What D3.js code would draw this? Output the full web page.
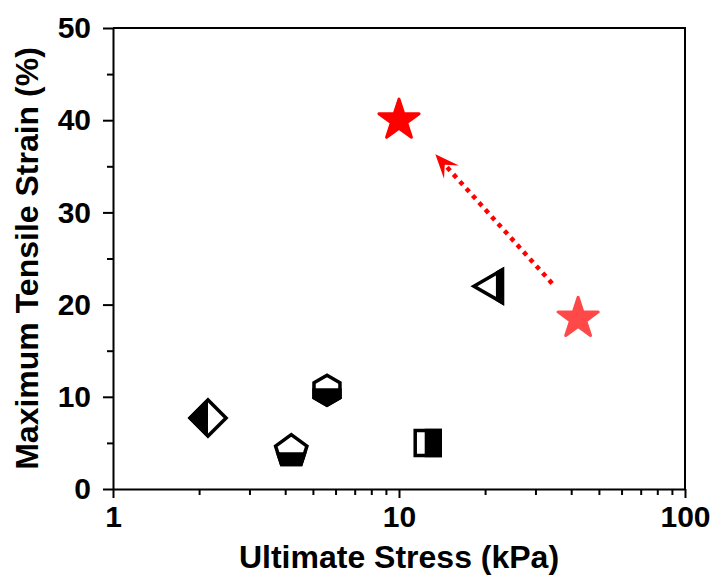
<!DOCTYPE html>
<html>
<head>
<meta charset="utf-8">
<script src="https://cdn.jsdelivr.net/npm/d3@7"></script>
<style>
  html, body { margin: 0; padding: 0; background: #fff; }
  svg { display: block; }
  text { font-family: "Liberation Sans", Arial, sans-serif; font-weight: bold; fill: #000; }
</style>
</head>
<body>
<svg id="chart" width="716" height="577"></svg>
<script>
// Samples: ultimate stress (kPa) vs. maximum tensile strain (%)
const sampleNames = ["diamond", "pentagon", "hexagon", "square", "triangle", "starLight", "starRed"];
const stressKPa   = [2.15, 4.2, 5.6, 12.6, 21.3, 42.3, 10.0];
const strainPct   = [7.7, 4.1, 10.7, 5.0, 22.0, 18.5, 40.0];

// Dotted arrow: from the light star towards the red star
const arrowStress = [34.3, 13.4];
const arrowStrain = [22.3, 36.3];

// Axis ticks
const xMajorTicks = [1, 10, 100];
const xMinorTicks = [2, 3, 4, 5, 6, 7, 8, 9, 20, 30, 40, 50, 60, 70, 80, 90];
const yMajorTicks = [0, 10, 20, 30, 40, 50];
const yMinorTicks = [5, 15, 25, 35, 45];

const W = 716, H = 577;
const margin = { left: 113, top: 28, right: 31, bottom: 88 };

const svg = d3.select("#chart");

const x = d3.scaleLog().domain([1, 100]).range([margin.left, W - margin.right]);
const y = d3.scaleLinear().domain([0, 50]).range([H - margin.bottom, margin.top]);

const axisColor = "#000";
const lw = 2;

// Frame (top and right edges)
svg.append("path")
  .attr("d", `M${x(1)},${y(50)}H${x(100)}V${y(0)}`)
  .attr("fill", "none").attr("stroke", axisColor).attr("stroke-width", lw);

// Bottom axis
const xAxisG = svg.append("g").attr("transform", `translate(0,${y(0)})`);
xAxisG.call(d3.axisBottom(x).tickValues(xMajorTicks).tickFormat(d3.format("d"))
    .tickSize(9).tickPadding(8).tickSizeOuter(0))
  .call(g => g.select(".domain").attr("stroke-width", lw))
  .call(g => g.selectAll(".tick line").attr("stroke-width", lw))
  .call(g => g.selectAll(".tick text").attr("font-size", 30).attr("font-family", null));
xAxisG.append("g").call(d3.axisBottom(x).tickValues(xMinorTicks).tickFormat("").tickSize(6).tickSizeOuter(0))
  .call(g => g.select(".domain").remove())
  .call(g => g.selectAll(".tick line").attr("stroke-width", lw));

// Left axis
const yAxisG = svg.append("g").attr("transform", `translate(${x(1)},0)`);
yAxisG.call(d3.axisLeft(y).tickValues(yMajorTicks).tickSize(10).tickPadding(12).tickSizeOuter(0))
  .call(g => g.select(".domain").attr("stroke-width", lw))
  .call(g => g.selectAll(".tick line").attr("stroke-width", lw))
  .call(g => g.selectAll(".tick text").attr("font-size", 30).attr("font-family", null));
yAxisG.append("g").call(d3.axisLeft(y).tickValues(yMinorTicks).tickFormat("").tickSize(6).tickSizeOuter(0))
  .call(g => g.select(".domain").remove())
  .call(g => g.selectAll(".tick line").attr("stroke-width", lw));

// Axis titles
svg.append("text")
  .attr("x", (x(1) + x(100)) / 2).attr("y", 568)
  .attr("text-anchor", "middle").attr("font-size", 32)
  .text("Ultimate Stress (kPa)");
svg.append("text")
  .attr("transform", `translate(38,${(y(0) + y(50)) / 2}) rotate(-90)`)
  .attr("text-anchor", "middle").attr("font-size", 32)
  .text("Maximum Tensile Strain (%)");

// Dotted arrow
const ax0 = x(arrowStress[0]), ay0 = y(arrowStrain[0]);
const ax1 = x(arrowStress[1]), ay1 = y(arrowStrain[1]);
const ang = Math.atan2(ay1 - ay0, ax1 - ax0);
const headLen = 24, headHalf = 10, notch = 14;
const ux = Math.cos(ang), uy = Math.sin(ang);
const px = -uy, py = ux;
svg.append("line")
  .attr("x1", ax0).attr("y1", ay0)
  .attr("x2", ax1 - ux * notch).attr("y2", ay1 - uy * notch)
  .attr("stroke", "#ff0000").attr("stroke-width", 4.5)
  .attr("stroke-dasharray", "4.5 5");
svg.append("path")
  .attr("d", [
    `M${ax1},${ay1}`,
    `L${ax1 - ux * headLen + px * headHalf},${ay1 - uy * headLen + py * headHalf}`,
    `L${ax1 - ux * notch},${ay1 - uy * notch}`,
    `L${ax1 - ux * headLen - px * headHalf},${ay1 - uy * headLen - py * headHalf}`,
    "Z"].join(""))
  .attr("fill", "#ff0000");

// Marker shapes (outline in local coordinates) and the half that is filled black
function regularPolygon(n, r, rot) {
  const pts = [];
  for (let i = 0; i < n; i++) {
    const a = rot + i * 2 * Math.PI / n;
    pts.push([r * Math.cos(a), r * Math.sin(a)]);
  }
  return "M" + pts.map(p => p.join(",")).join("L") + "Z";
}
const markerDefs = {
  diamond:  { d: regularPolygon(4, 18, 0), clip: [-30, -30, 30, 60] },
  pentagon: { d: regularPolygon(5, 16.5, -Math.PI / 2), clip: [-30, 1, 60, 30] },
  hexagon:  { d: regularPolygon(6, 15, -Math.PI / 2), clip: [-30, -2, 60, 30] },
  square:   { d: "M-12.5,-12.5H12.5V12.5H-12.5Z", clip: [-3, -30, 30, 60] },
  triangle: { d: regularPolygon(3, 19, Math.PI), clip: [3, -30, 30, 60] }
};

const defs = svg.append("defs");
Object.entries(markerDefs).forEach(([k, m]) => {
  defs.append("clipPath").attr("id", "half-" + k)
    .append("rect").attr("x", m.clip[0]).attr("y", m.clip[1])
    .attr("width", m.clip[2]).attr("height", m.clip[3]);
});

const points = sampleNames.map((n, i) => ({ name: n, sx: stressKPa[i], sy: strainPct[i] }));

const shapeG = svg.append("g");
points.filter(p => markerDefs[p.name]).forEach(p => {
  const m = markerDefs[p.name];
  const g = shapeG.append("g").attr("transform", `translate(${x(p.sx)},${y(p.sy)})`);
  g.append("path").attr("d", m.d).attr("fill", "#fff")
    .attr("stroke", "#000").attr("stroke-width", 3.5).attr("stroke-linejoin", "miter");
  g.append("path").attr("d", m.d).attr("fill", "#000")
    .attr("stroke", "#000").attr("stroke-width", 3.5)
    .attr("clip-path", `url(#half-${p.name})`);
});

// Stars
const starColors = { starLight: "#ff4848", starRed: "#ff0000" };
const starPath = d3.symbol().type(d3.symbolStar).size(500)();
points.filter(p => starColors[p.name]).forEach(p => {
  svg.append("path")
    .attr("transform", `translate(${x(p.sx)},${y(p.sy)})`)
    .attr("d", starPath)
    .attr("fill", starColors[p.name])
    .attr("stroke", starColors[p.name]).attr("stroke-width", 3)
    .attr("stroke-linejoin", "round");
});
</script>
</body>
</html>
